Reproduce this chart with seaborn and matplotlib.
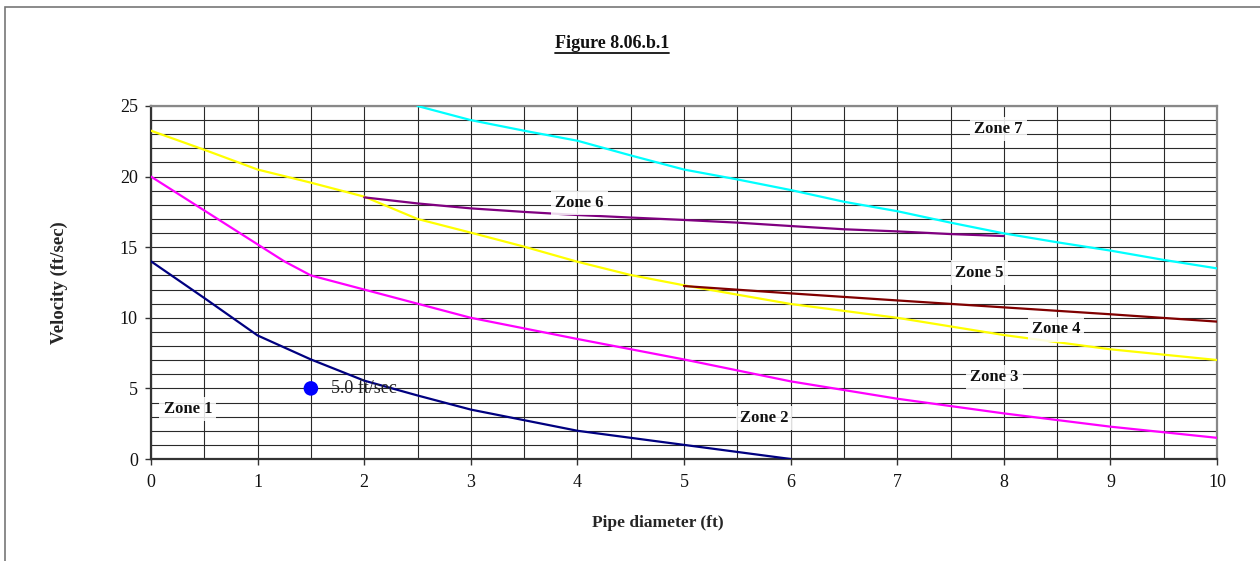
import matplotlib
matplotlib.use("Agg")
import matplotlib.pyplot as plt
import seaborn as sns
import pandas as pd
from matplotlib.patches import Rectangle
from matplotlib.lines import Line2D

# ---- data ----
zone1_x = [0, 0.5, 1, 1.25, 1.5, 2, 2.5, 3, 4, 5, 6]
zone1_y = [14, 11.4, 8.75, 7.9, 7.05, 5.55, 4.5, 3.5, 2.0, 1.0, 0]

zone2_x = [0, 0.5, 1, 1.25, 1.5, 2, 2.5, 3, 4, 5, 6, 7, 8, 9, 10]
zone2_y = [20, 17.6, 15.2, 14.0, 13.0, 12.0, 11.0, 10.0, 8.5, 7.05, 5.5, 4.27, 3.23, 2.29, 1.5]

zone3_x = [0, 0.5, 1, 1.5, 2, 2.5, 3, 3.5, 4, 4.5, 5, 6, 7, 8, 9, 10]
zone3_y = [23.25, 21.9, 20.5, 19.57, 18.58, 17.0, 16.03, 15.04, 13.97, 13.03, 12.3, 10.98, 10.0, 8.78, 7.77, 7.01]

zone4_x = [5, 6, 7, 8, 9, 10]
zone4_y = [12.25, 11.73, 11.23, 10.74, 10.25, 9.73]

zone5_x = [2, 2.5, 3, 3.5, 4, 4.5, 5, 5.5, 6, 6.5, 7, 7.5, 8]
zone5_y = [18.53, 18.1, 17.75, 17.5, 17.28, 17.1, 16.93, 16.74, 16.5, 16.27, 16.12, 15.93, 15.79]

zone6_x = [2.5, 3, 3.5, 4, 4.5, 5, 5.5, 6, 6.5, 7, 7.5, 8, 8.5, 9, 9.5, 10]
zone6_y = [25.0, 24.0, 23.25, 22.54, 21.5, 20.5, 19.8, 19.05, 18.22, 17.55, 16.74, 15.98, 15.35, 14.76, 14.1, 13.5]

series_names = ["b1", "b2", "b3", "b4", "b5", "b6"]
series_colors = ["#000080", "#FF00FF", "#FFFF00", "#800000", "#800080", "#00FFFF"]

point_x = [1.5]
point_y = [5.0]
point_label = "5.0 ft/sec"

zone_labels = ["Zone 1", "Zone 2", "Zone 3", "Zone 4", "Zone 5", "Zone 6", "Zone 7"]
zone_label_x = [0.345, 5.75, 7.91, 8.49, 7.77, 4.02, 7.95]
zone_label_y = [3.52, 2.9, 5.83, 9.18, 13.2, 18.15, 23.35]

x_ticks = [0, 1, 2, 3, 4, 5, 6, 7, 8, 9, 10]
y_ticks = [0, 5, 10, 15, 20, 25]

title = "Figure 8.06.b.1"
xlabel = "Pipe diameter (ft)"
ylabel = "Velocity (ft/sec)"

# ---- build long-form table ----
frames = []
for name, xs, ys in zip(series_names,
                        [zone1_x, zone2_x, zone3_x, zone4_x, zone5_x, zone6_x],
                        [zone1_y, zone2_y, zone3_y, zone4_y, zone5_y, zone6_y]):
    frames.append(pd.DataFrame({"x": xs, "y": ys, "series": name}))
df = pd.concat(frames, ignore_index=True)

sns.set_theme(style="white")
plt.rcParams["font.family"] = ["Liberation Serif", "DejaVu Serif"]

W, H = 1260, 561
fig = plt.figure(figsize=(W / 100, H / 100), dpi=100)
ax = fig.add_axes([151 / W, 1 - 459 / H, (1217 - 151) / W, (459 - 106) / H])

# grid
for v in range(0, 26):
    ax.axhline(v, color="#2a2a2a", lw=0.8, zorder=1)
for v in [i * 0.5 for i in range(0, 21)]:
    ax.axvline(v, color="#2a2a2a", lw=0.8, zorder=1)

sns.lineplot(data=df, x="x", y="y", hue="series", palette=dict(zip(series_names, series_colors)),
             hue_order=series_names, estimator=None, sort=False, lw=1.6, legend=False, ax=ax, zorder=3)

sns.scatterplot(x=point_x, y=point_y, color="#0000FF", s=110, edgecolor="none", ax=ax, zorder=4)
ax.text(point_x[0] + 0.19, point_y[0], point_label, fontsize=13, va="center", ha="left",
        color="#222222", zorder=5)

for lab, lx, ly in zip(zone_labels, zone_label_x, zone_label_y):
    ax.text(lx, ly, lab, fontsize=12, fontweight="bold", ha="center", va="center",
            color="#111111", zorder=5,
            bbox=dict(facecolor="white", edgecolor="none", pad=3, alpha=0.85))

ax.set_xlim(0, 10)
ax.set_ylim(0, 25)
ax.set_xticks(x_ticks)
ax.set_yticks(y_ticks)
ax.set_xticklabels([str(t) for t in x_ticks], fontsize=13)
ax.set_yticklabels([str(t) for t in y_ticks], fontsize=13)
ax.tick_params(axis="both", direction="out", length=4.5, width=1, color="#333333", colors="#111111")
ax.tick_params(axis="x", bottom=True, pad=6)
ax.tick_params(axis="y", left=True, pad=5)

ax.set_xlabel(xlabel, fontsize=12.5, fontweight="bold")
ax.xaxis.set_label_coords((658 - 151) / 1066, (459 - 523) / 353)
ax.xaxis.label.set_va("center")
ax.set_ylabel(ylabel, fontsize=13.5, fontweight="bold")
ax.yaxis.set_label_coords((59 - 151) / 1066, 0.5)
ax.yaxis.label.set_va("center")

for side in ["left", "bottom"]:
    ax.spines[side].set_color("#333333")
    ax.spines[side].set_linewidth(1.6)
for side in ["top", "right"]:
    ax.spines[side].set_color("#888888")
    ax.spines[side].set_linewidth(1.6)

# title with underline
t = fig.text(612 / W, 1 - 44 / H, title, fontsize=13, fontweight="bold",
             ha="center", va="center", color="#111111")
fig.canvas.draw()
bb = t.get_window_extent()
fig.add_artist(Line2D([bb.x0, bb.x1], [bb.y0 - 0.5, bb.y0 - 0.5], transform=None,
                      color="#111111", lw=1.3))

# outer frame
fig.add_artist(Rectangle((5 / W, -0.1), 1.2, 1 - 7 / H + 0.1, transform=fig.transFigure,
                         fill=False, edgecolor="#777777", lw=1.2))

fig.savefig("out.png", dpi=100)
